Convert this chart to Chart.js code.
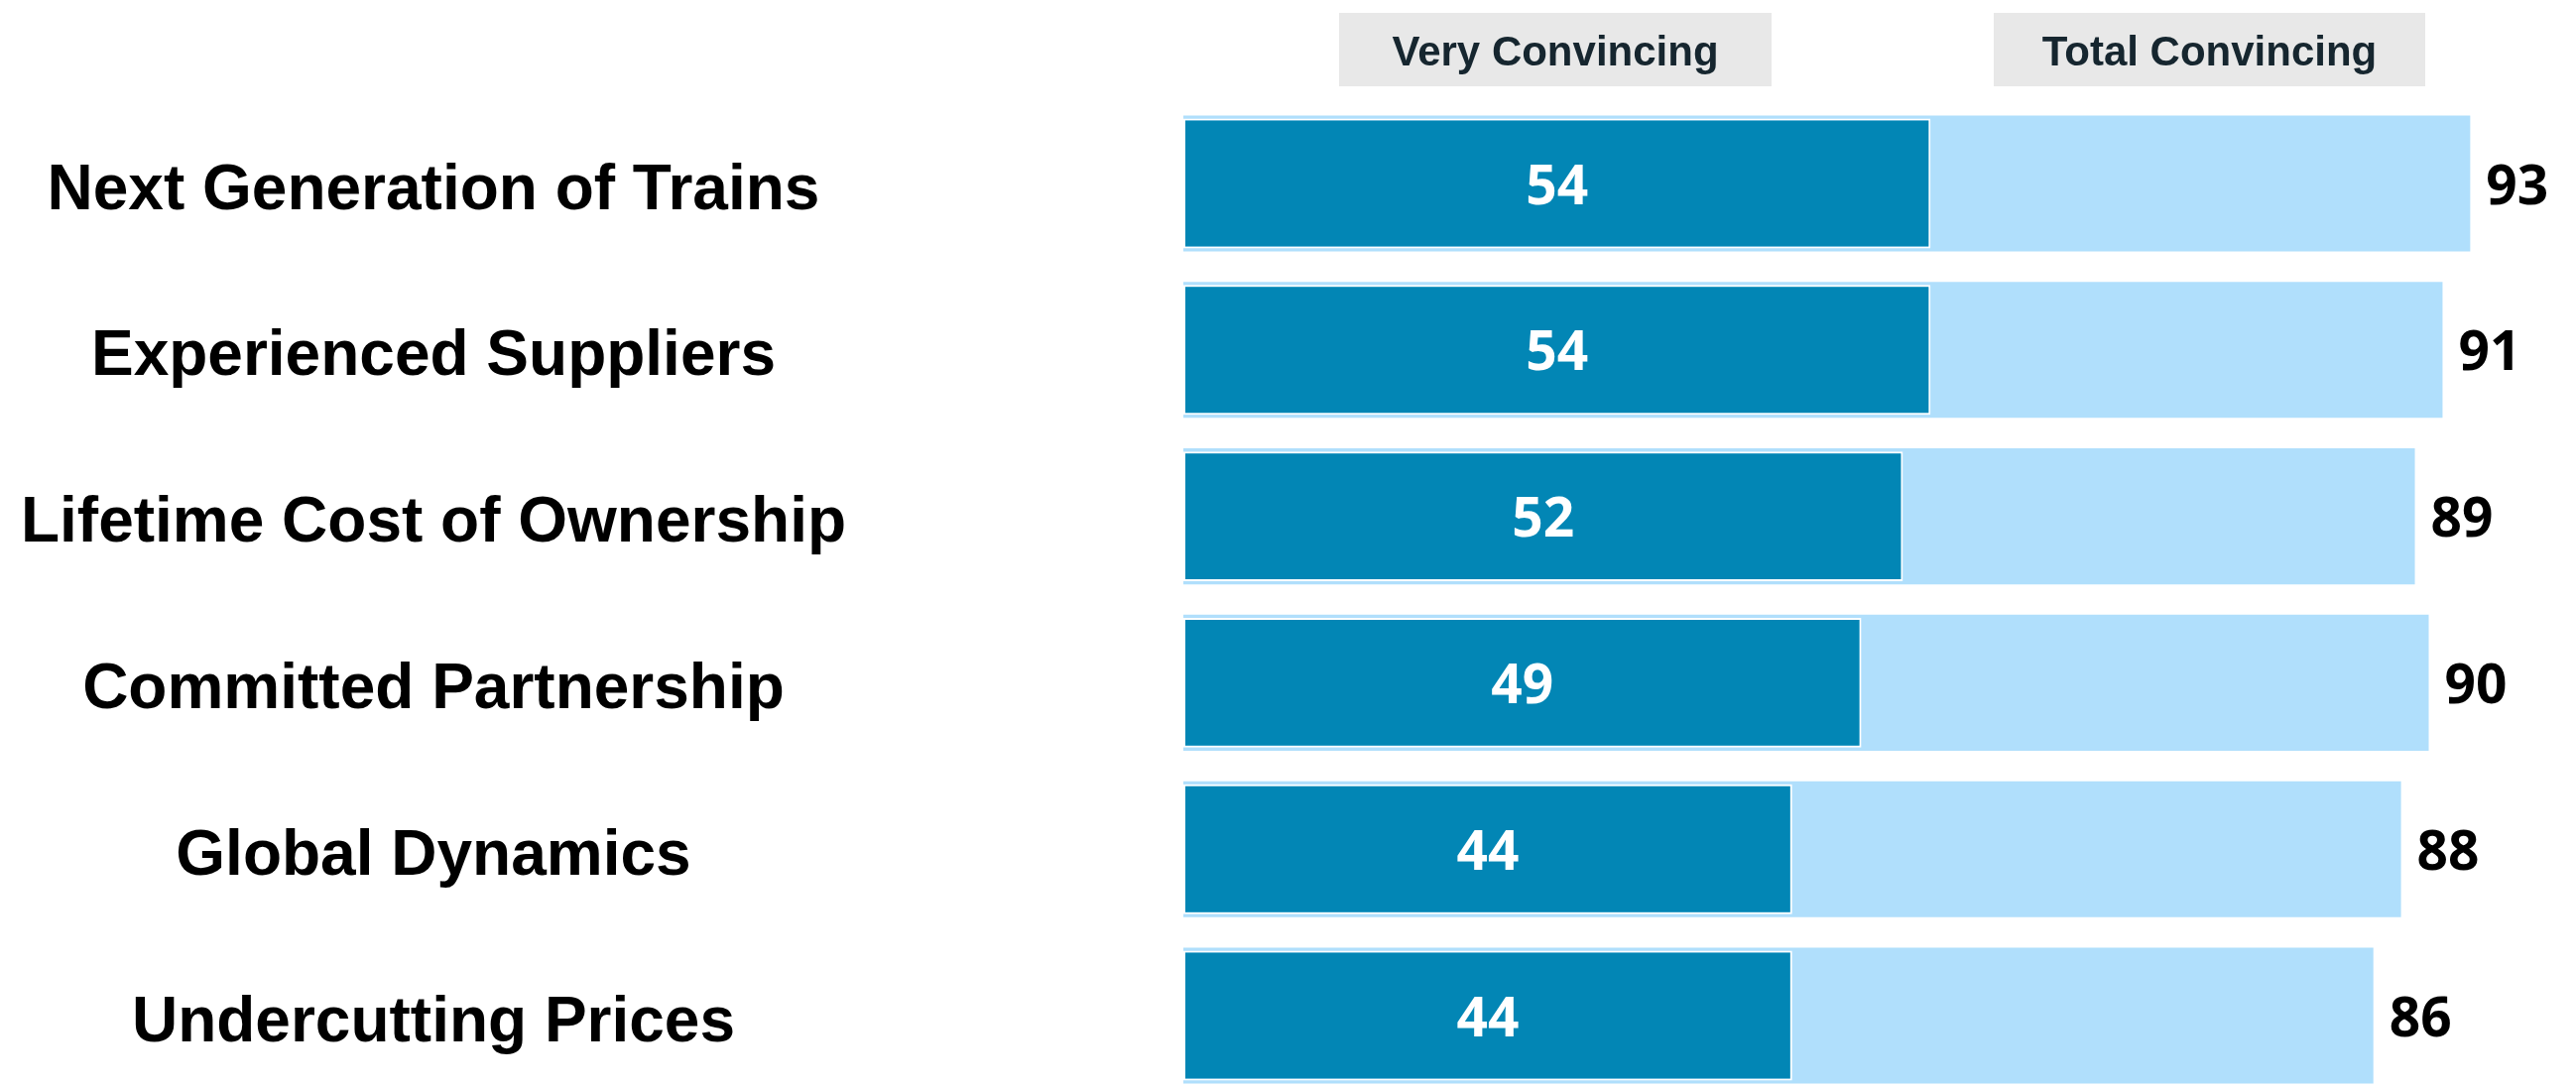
<!DOCTYPE html>
<html>
<head>
<meta charset="utf-8">
<script src="https://cdn.jsdelivr.net/npm/chart.js@4/dist/chart.umd.min.js"></script>
<style>
	html, body { margin: 0; padding: 0; background: #fff; }
	#grafico_convincing { display: block; }
</style>
</head>
<body>
<canvas id="grafico_convincing" width="2597" height="1098"></canvas>
<script>
var categorias = ["Next Generation of Trains", "Experienced Suppliers", "Lifetime Cost of Ownership", "Committed Partnership", "Global Dynamics", "Undercutting Prices"];
var series_nombres = ["Very Convincing", "Total Convincing"];
var very_convincing = [54, 54, 52, 49, 44, 44];
var total_convincing = [93, 91, 89, 90, 88, 86];

var color_oscuro = "#0286b5";
var color_claro = "#b0dffc";

// cabeceras grises encima de las barras
var plugin_cabeceras = {
	id: "cabeceras",
	beforeDraw: function(chart){
		var ctx = chart.ctx;
		var cajas = [
			{x: 1350, w: 436, texto: series_nombres[0]},
			{x: 2010, w: 435, texto: series_nombres[1]}
		];
		ctx.save();
		ctx.font = "bold 42px 'Liberation Sans', Arial, sans-serif";
		ctx.textAlign = "center";
		ctx.textBaseline = "middle";
		cajas.forEach(function(c){
			ctx.fillStyle = "#e8e8e8";
			ctx.fillRect(c.x, 13, c.w, 74);
			ctx.fillStyle = "#16262f";
			ctx.fillText(c.texto, c.x + c.w / 2, 54);
		});
		ctx.restore();
	}
};

// numeros dentro y al final de las barras
var plugin_valores = {
	id: "valores",
	afterDatasetsDraw: function(chart){
		var ctx = chart.ctx;
		ctx.save();
		ctx.font = "bold 55px 'Open Sans', sans-serif";
		ctx.textBaseline = "middle";
		var meta_oscuro = chart.getDatasetMeta(0);
		meta_oscuro.data.forEach(function(bar, i){
			ctx.fillStyle = "#ffffff";
			ctx.textAlign = "center";
			ctx.fillText(very_convincing[i], (bar.base + bar.x) / 2, bar.y + 5);
		});
		var meta_claro = chart.getDatasetMeta(1);
		meta_claro.data.forEach(function(bar, i){
			ctx.fillStyle = "#000000";
			ctx.textAlign = "left";
			ctx.fillText(total_convincing[i], bar.x + 16, bar.y + 5);
		});
		ctx.restore();
	}
};

var $grafico = document.getElementById("grafico_convincing");
new Chart($grafico, {
	type: "bar",
	data: {
		labels: categorias,
		datasets: [{
			label: series_nombres[0],
			data: very_convincing,
			backgroundColor: color_oscuro,
			borderColor: "#ffffff",
			borderWidth: 2,
			borderSkipped: false,
			barPercentage: 0.78,
			categoryPercentage: 1,
			grouped: false,
			clip: false
		}, {
			label: series_nombres[1],
			data: total_convincing,
			backgroundColor: color_claro,
			borderWidth: 0,
			barPercentage: 0.817,
			categoryPercentage: 1,
			grouped: false,
			clip: false
		}]
	},
	options: {
		indexAxis: "y",
		responsive: false,
		animation: false,
		devicePixelRatio: 1,
		layout: {
			padding: {top: 185, bottom: 74, left: 0, right: 9}
		},
		plugins: {
			legend: {display: false},
			tooltip: {enabled: false}
		},
		scales: {
			x: {
				display: false,
				min: 0,
				max: 100
			},
			y: {
				offset: false,
				border: {display: false},
				grid: {display: false, drawTicks: false},
				ticks: {
					crossAlign: "center",
					padding: 340,
					labelOffset: 8,
					color: "#000000",
					font: {family: "'Liberation Sans', Arial, sans-serif", size: 64, weight: "bold"}
				},
				afterFit: function(scale){
					// el padding de ticks solo debe mover las etiquetas en x
					scale.width = 1193;
					scale.paddingTop = 0;
					scale.paddingBottom = 0;
				}
			}
		}
	},
	plugins: [plugin_cabeceras, plugin_valores]
});
</script>
</body>
</html>
